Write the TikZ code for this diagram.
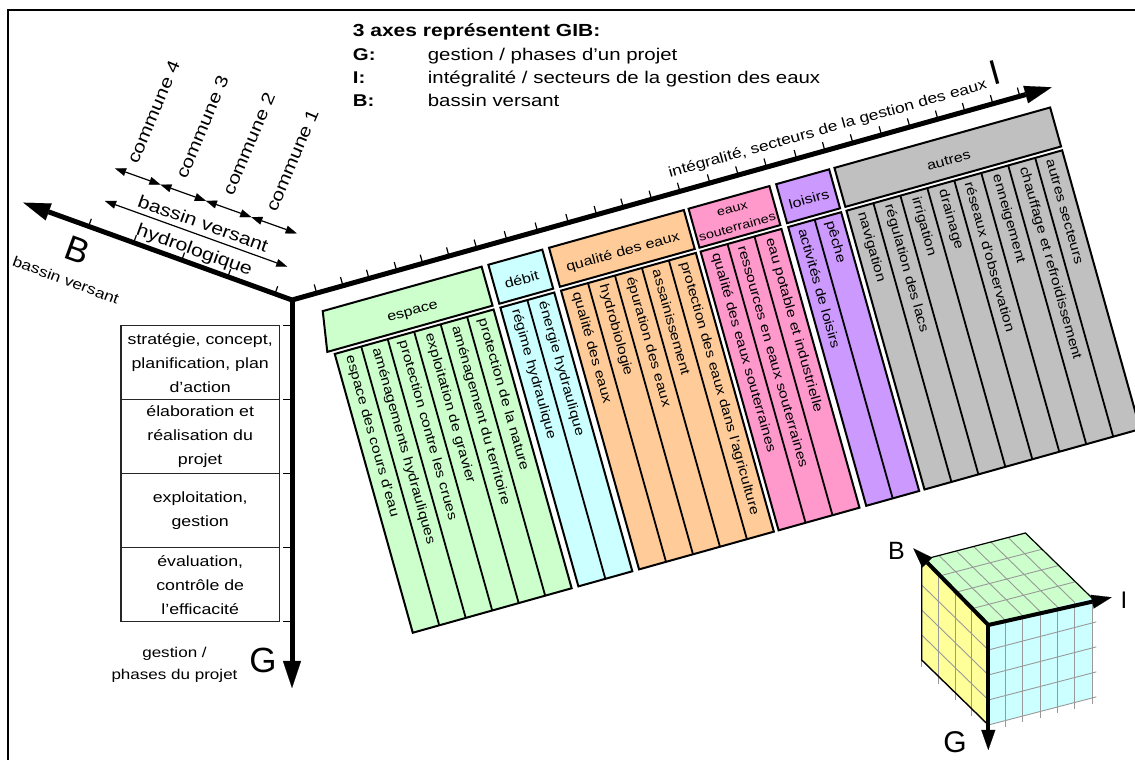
\documentclass[tikz,border=0pt]{standalone}
\usepackage{fontspec}
\setmainfont{Liberation Sans}[FakeStretch=1.2]
\newfontfamily\bigfont{Liberation Sans}
\usetikzlibrary{arrows.meta}
\newcommand\setfs[2]{\fontsize{#1}{#2}\selectfont}
\def\ang{15.64}
\definecolor{cEsp}{HTML}{CCFFCC}
\definecolor{cDeb}{HTML}{CCFFFF}
\definecolor{cQua}{HTML}{FFCC99}
\definecolor{cEau}{HTML}{FF99CC}
\definecolor{cLoi}{HTML}{CC99FF}
\definecolor{cAut}{HTML}{C0C0C0}
\definecolor{cYel}{HTML}{FFFF99}
\newcommand\sectgroup[6]{%
  \pgfmathsetmacro\uE{#2+#3*#4}%
  \draw[tb, fill=#5] (#2,-63.5) rectangle (\uE,-353);%
  \foreach \t [count=\k] in {#6} {%
    \ifnum\k<#4\relax \draw[sep] ({#2+#3*\k},-63.5) -- ({#2+#3*\k},-353);\fi
    \node[ct] (#1-\k) at ({#2+#3*(\k-0.5)},-69) {\t};%
  }%
}
\begin{document}
\begin{tikzpicture}[x=1pt,y=1pt,
  tb/.style={draw=black, line width=2pt, line join=miter},
  sep/.style={draw=black, line width=1.8pt},
  hd/.style={inner sep=0pt, anchor=base, font=\setfs{13.4}{15}, rotate=\ang},
  ct/.style={inner sep=0pt, anchor=west, font=\setfs{13.2}{15}, rotate=\ang-90},
  bigaxis/.style={line width=5pt, line join=miter},
  tipA/.tip={Triangle[length=27pt,width=18pt,line width=0.1pt]},
  tipS/.tip={Triangle[length=11pt,width=8pt,line width=0.1pt]},
  tipC/.tip={Triangle[length=20pt,width=14pt,line width=0.1pt]},
  tick/.style={line width=1.2pt},
  thinarrow/.style={line width=1.2pt, tipS-tipS},
  leg/.style={anchor=base west, inner sep=0pt, font=\setfs{17}{20}},
  legb/.style={anchor=base west, inner sep=0pt, font=\bfseries\setfs{17}{20}},
  gbox/.style={draw=black!85, line width=1.2pt, minimum width=158.3pt, minimum height=74pt, align=center, inner sep=0pt, font=\setfs{14.8}{24}},
  gridc/.style={draw=black!40, line width=0.9pt},
  cubeax/.style={line width=4pt, -tipC},
  edge/.style={draw=black, line width=1.4pt}
]
\useasboundingbox (0,0) rectangle (1135,760);
% frame
\draw[line width=2pt] (8,0) -- (8,750) -- (1135,750);

% legend
\node[legb, font=\bfseries\setfs{17.5}{20}] (title) at (352.7,723.7) {3 axes représentent GIB:};
\node[legb] (kG) at (352.7,699.7) {G:};
\node[leg] (tG) at (427.7,699.7) {gestion / phases d’un projet};
\node[legb] (kI) at (352.7,676.7) {I:};
\node[leg] (tI) at (427.7,676.7) {intégralité / secteurs de la gestion des eaux};
\node[legb] (kB) at (352.7,653.3) {B:};
\node[leg] (tB) at (427.7,653.3) {bassin versant};

% axes
\coordinate (O) at (292,460);
\coordinate (Btip) at (23.3,557.3);
\coordinate (Itip) at (1051.7,672.7);
\coordinate (Gtip) at (292,72);
\draw[bigaxis, tipA-tipA] (Btip) -- (O) -- (Itip);
\draw[bigaxis, -tipA] (O) -- (Gtip);

% B axis ticks
\begin{scope}[shift={(O)}, rotate=160.1]
  \foreach \d in {18.1,68.2,117.2,168.4,216.3} \draw[tick] (\d,0) -- (\d,-8);
\end{scope}
% G axis ticks
\foreach \y in {434.3,360.3,286.3,212.3,138.3} \draw[tick] (283,\y) -- (292,\y);

% B axis labels
\node[font=\bigfont\setfs{35}{35}, rotate=-20, inner sep=0pt] (bigB) at (78,510) {B};
\node[font=\setfs{14.5}{16}, rotate=-20.5, inner sep=0pt] (bvB) at (66,480) {bassin versant};
\coordinate (h1) at (105,559);
\coordinate (h2) at (287.3,493.3);
\draw[thinarrow] (h1) -- (h2);
\node[font=\setfs{17.7}{20}, rotate=-19.8, inner sep=0pt] (bvh1) at (203.3,536.7) {bassin versant};
\node[font=\setfs{17.7}{20}, rotate=-19.8, inner sep=0pt] (bvh2) at (194.2,509.2) {hydrologique};
\coordinate (c1) at (115,591.7);
\coordinate (c2) at (160.4,575.45);
\coordinate (c3) at (205.85,559.2);
\coordinate (c4) at (251.3,542.95);
\coordinate (c5) at (296.7,526.7);
\draw[thinarrow] (c1) -- (c2);
\draw[thinarrow] (c2) -- (c3);
\draw[thinarrow] (c3) -- (c4);
\draw[thinarrow] (c4) -- (c5);
\node[font=\setfs{17.4}{20}, rotate=67, anchor=south west, inner sep=0pt] (com4) at (138,595) {commune 4};
\node[font=\setfs{17.4}{20}, rotate=67, anchor=south west, inner sep=0pt] (com3) at (186.7,580) {commune 3};
\node[font=\setfs{17.4}{20}, rotate=67, anchor=south west, inner sep=0pt] (com2) at (233.3,563.3) {commune 2};
\node[font=\setfs{17.4}{20}, rotate=67, anchor=south west, inner sep=0pt] (com1) at (276.7,546.7) {commune 1};

% G axis boxes and labels
\node[gbox] (g1) at (200.2,397.3) {stratégie, concept,\\planification, plan\\d’action};
\node[gbox] (g2) at (200.2,323.3) {élaboration et\\réalisation du\\projet};
\node[gbox] (g3) at (200.2,249.3) {exploitation,\\gestion};
\node[gbox] (g4) at (200.2,175.3) {évaluation,\\contrôle de\\l’efficacité};
\node[align=center, font=\setfs{14.2}{22}, inner sep=0pt] (gph) at (174.5,95) {gestion /\\phases du projet};
\node[font=\bigfont\setfs{35}{35}, inner sep=0pt] (bigG) at (263,100) {G};

% big I
\node[font=\bigfont\setfs{35}{35}, rotate=\ang, inner sep=0pt] (bigI) at (995,687) {I};

% sector table
\begin{scope}[shift={(O)}, rotate=\ang]
  \foreach \u in {25.6,52.9,79.9,108.7,135.7,163,191.7,223,255,286.9,316.3,344,373.4,402.8,433.9,463.3,492.7,524,553.4,582.4,612.2,641.6,670.7,698.7,727.8,755.8}
    \draw[tick] (\u,0) -- (\u,9);
  \node[font=\setfs{14.5}{16}, rotate=\ang, inner sep=0pt] (ilab) at (562,20) {intégralité, secteurs de la gestion des eaux};
  % headers
  \draw[tb, fill=cEsp] (26.6,-19) -- (191.6,-19) -- (191.6,-59.5) -- (20,-59.5) -- cycle;
  \node[hd] (hEsp) at (113,-47) {espace};
  \draw[tb, fill=cDeb] (198.6,-19) rectangle (254.6,-59.5);
  \node[hd] (hDeb) at (226.6,-47) {débit};
  \draw[tb, fill=cQua] (261.6,-19) rectangle (401.6,-59.5);
  \node[hd] (hQua) at (331.6,-47) {qualité des eaux};
  \draw[tb, fill=cEau] (406.5,-19) rectangle (490.5,-59.5);
  \node[hd, font=\setfs{12}{14}] (hEau1) at (448.5,-34.5) {eaux};
  \node[hd, font=\setfs{12}{14}] (hEau2) at (448.5,-53.6) {souterraines};
  \draw[tb, fill=cLoi] (497.5,-19) rectangle (552.5,-59.5);
  \node[hd] (hLoi) at (525,-47) {loisirs};
  \draw[tb, fill=cAut] (558,-19) rectangle (782,-59.5);
  \node[hd] (hAut) at (670,-47) {autres};
  % columns
  \sectgroup{esp}{26.6}{27.5}{6}{cEsp}{espace des cours d’eau,aménagements hydrauliques,protection contre les crues,exploitation de gravier,aménagement du territoire,protection de la nature}
  \sectgroup{deb}{198.6}{28}{2}{cDeb}{régime hydraulique,énergie hydraulique}
  \sectgroup{qua}{261.6}{28}{5}{cQua}{qualité des eaux,hydrobiologie,épuration des eaux,assainissement,protection des eaux dans l’agriculture}
  \sectgroup{eau}{406.5}{28}{3}{cEau}{qualité des eaux souterraines,ressources en eaux souterraines,eau potable et industrielle}
  \sectgroup{loi}{497.5}{27.5}{2}{cLoi}{activités de loisirs,pêche}
  \sectgroup{aut}{558}{28}{8}{cAut}{navigation,régulation des lacs,irrigation,drainage,réseaux d’observation,enneigement,chauffage et refroidissement,autres secteurs}
\end{scope}

% cube
\coordinate (F) at (988.3,135);
\coordinate (FI) at (1092,162);
\coordinate (FB) at (921.7,200);
\coordinate (FBI) at (1025.4,227);
\coordinate (FG) at (988.3,35);
\coordinate (FIG) at (1092,62);
\coordinate (FBG) at (921.7,100);
\fill[cEsp] (F) -- (FI) -- (FBI) -- (FB) -- cycle;
\fill[cDeb] (F) -- (FI) -- (FIG) -- (FG) -- cycle;
\fill[cYel] (F) -- (FB) -- (FBG) -- (FG) -- cycle;
\begin{scope}[shift={(F)}, x={(17.283pt,4.5pt)}, y={(-16.65pt,16.25pt)}]
  \foreach \a in {1,...,5} \draw[gridc] (\a,0) -- (\a,4);
  \foreach \b in {1,...,3} \draw[gridc] (0,\b) -- (6,\b);
\end{scope}
\begin{scope}[shift={(F)}, x={(17.283pt,4.5pt)}, y={(0pt,-25pt)}]
  \foreach \a in {1,...,6} \draw[gridc] (\a,0) -- (\a,4.25);
  \foreach \g in {1,...,4} \draw[gridc] (0,\g) -- (6.25,\g);
\end{scope}
\begin{scope}[shift={(F)}, x={(-16.65pt,16.25pt)}, y={(0pt,-25pt)}]
  \foreach \b in {1,...,4} \draw[gridc] (\b,0) -- (\b,4.3);
  \foreach \g in {1,...,3} \draw[gridc] (0,\g) -- (4,\g);
\end{scope}
\draw[edge] (FB) -- (FBG) -- (FG);
\draw[edge, line width=1.2pt] (FB) -- (FBI) -- (FI);
\coordinate (cBtip) at (913.3,211.7);
\coordinate (cItip) at (1111.7,162.7);
\coordinate (cGtip) at (988.3,10);
\draw[cubeax] (F) -- (cBtip);
\draw[cubeax] (F) -- (cItip);
\draw[cubeax] (F) -- (cGtip);
\node[font=\bigfont\setfs{25}{25}, inner sep=0pt] (cubeB) at (896.5,209.2) {B};
\node[font=\bigfont\setfs{24}{24}, inner sep=0pt] (cubeI) at (1124,160) {I};
\node[font=\bigfont\setfs{30}{30}, inner sep=0pt] (cubeG) at (955,18.3) {G};
\end{tikzpicture}
\end{document}
